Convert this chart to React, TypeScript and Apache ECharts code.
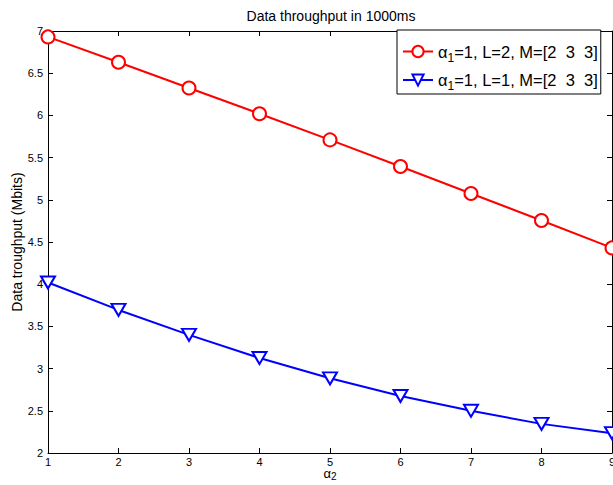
import React, { useEffect, useRef } from "react";
import * as echarts from "echarts";

const xValues = [1, 2, 3, 4, 5, 6, 7, 8, 9];
const redValues = [6.93, 6.63, 6.325, 6.02, 5.71, 5.395, 5.075, 4.755, 4.43];
const blueValues = [4.02, 3.695, 3.4, 3.125, 2.885, 2.675, 2.5, 2.345, 2.235];
const yTicks = ["2", "2.5", "3", "3.5", "4", "4.5", "5", "5.5", "6", "6.5", "7"];
const seriesNames = ["L2", "L1"];
const legendTexts: Record<string, string> = {
  L2: "{a|α}{s|1}{a|=1, L=2, M=[2  3  3]}",
  L1: "{a|α}{s|1}{a|=1, L=1, M=[2  3  3]}",
};

const FONT = "Liberation Sans, Arial, Helvetica, sans-serif";

export default function App() {
  const ref = useRef<HTMLDivElement>(null);
  useEffect(() => {
    if (!ref.current) return;
    const chart = echarts.init(ref.current, null, { renderer: "svg" });
    const axisCommon = {
      type: "value" as const,
      axisLine: { show: true, onZero: false, lineStyle: { color: "#000", width: 1 } },
      axisTick: { show: true, inside: true, length: 5, lineStyle: { color: "#000" } },
      splitLine: { show: false },
    };
    chart.setOption({
      animation: false,
      backgroundColor: "#fff",
      textStyle: { fontFamily: FONT },
      title: {
        text: "Data throughput in 1000ms",
        left: 331,
        textAlign: "center",
        top: 9,
        padding: 0,
        textStyle: { fontSize: 14, fontWeight: "normal", color: "#000", fontFamily: FONT },
      },
      grid: { left: 48, right: 1, top: 31, bottom: 32, containLabel: false, outerBoundsMode: "none" },
      xAxis: [
        {
          ...axisCommon,
          min: 1,
          max: 9,
          interval: 1,
          position: "bottom",
          axisLabel: { color: "#000", fontSize: 11, margin: 3, fontFamily: FONT },
          name: "{a|α}{s|2}",
          nameLocation: "middle",
          nameGap: 13,
          nameMoveOverlap: false,
          nameTextStyle: {
            rich: {
              a: { fontSize: 13, color: "#000", fontFamily: FONT, lineHeight: 13 },
              s: { fontSize: 10, color: "#000", fontFamily: FONT, padding: [5, 0, 0, 0] },
            },
          },
        },
        {
          ...axisCommon,
          min: 1,
          max: 9,
          interval: 1,
          position: "top",
          axisLabel: { show: false },
        },
      ],
      yAxis: [
        {
          ...axisCommon,
          min: 2,
          max: 7,
          interval: 0.5,
          position: "left",
          axisLabel: {
            color: "#000",
            fontSize: 11,
            margin: 5,
            fontFamily: FONT,
            formatter: (v: number) => {
              const idx = Math.round((v - 2) / 0.5);
              return yTicks[idx] ?? String(v);
            },
          },
          name: "Data troughput (Mbits)",
          nameLocation: "middle",
          nameGap: 24,
          nameMoveOverlap: false,
          nameTextStyle: { fontSize: 14, color: "#000", fontFamily: FONT },
        },
        {
          ...axisCommon,
          min: 2,
          max: 7,
          interval: 0.5,
          position: "right",
          axisLabel: { show: false },
        },
      ],
      legend: {
        data: seriesNames,
        left: 397,
        top: 30,
        orient: "vertical",
        itemWidth: 30,
        itemHeight: 14,
        itemGap: 8,
        padding: [13, 3, 2, 5],
        borderColor: "#000",
        borderWidth: 1,
        backgroundColor: "#fff",
        formatter: (name: string) => legendTexts[name],
        textStyle: {
          rich: {
            a: { fontSize: 16.5, color: "#000", fontFamily: FONT, lineHeight: 22 },
            s: { fontSize: 12, color: "#000", fontFamily: FONT, padding: [12, 0, 0, 0] },
          },
        },
      },
      series: [
        {
          name: seriesNames[0],
          type: "line",
          data: xValues.map((x, i) => [x, redValues[i]]),
          symbol: "emptyCircle",
          symbolSize: 13,
          lineStyle: { color: "#ff0000", width: 2 },
          itemStyle: { color: "#ff0000", borderColor: "#ff0000", borderWidth: 2 },
          z: 3,
        },
        {
          name: seriesNames[1],
          type: "line",
          data: xValues.map((x, i) => [x, blueValues[i]]),
          symbol: "emptyTriangle",
          symbolRotate: 180,
          symbolSize: [14, 12],
          lineStyle: { color: "#0000ff", width: 2 },
          itemStyle: { color: "#0000ff", borderColor: "#0000ff", borderWidth: 2 },
          z: 3,
        },
      ],
    });
    return () => chart.dispose();
  }, []);
  return <div ref={ref} style={{ width: 613, height: 485, position: "absolute", left: 0, top: 0 }} />;
}
